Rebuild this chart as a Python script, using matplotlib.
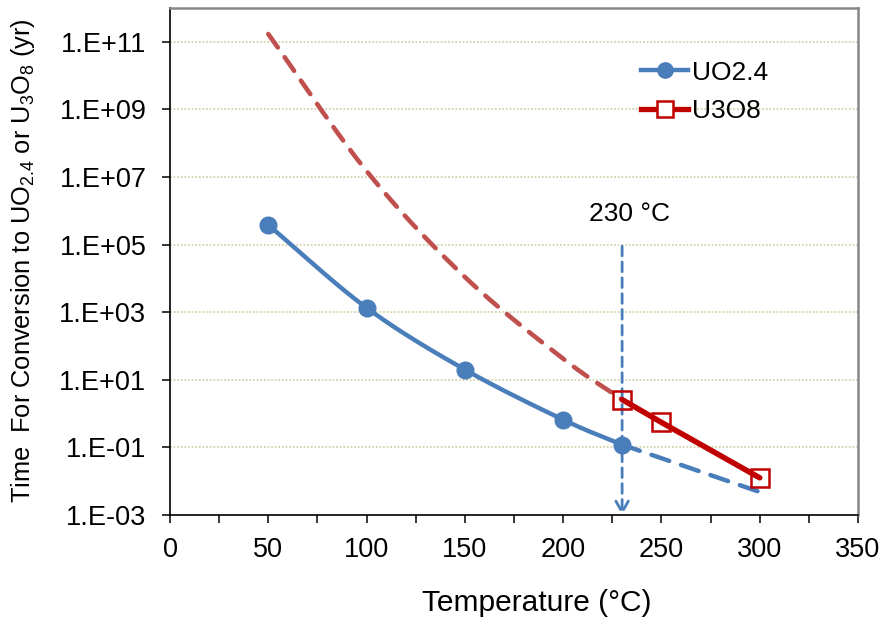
import numpy as np
import matplotlib
matplotlib.use("Agg")
import matplotlib.pyplot as plt
from matplotlib.ticker import FixedLocator, MultipleLocator, NullFormatter, NullLocator

plt.rcParams['font.family'] = ['Liberation Sans', 'DejaVu Sans']
plt.rcParams['mathtext.default'] = 'regular'

# ---------------- data ----------------
uo24_temp = [50, 100, 150, 200, 230]
uo24_time = [3.8e5, 1.35e3, 20.0, 0.66, 0.12]

uo24_ext_temp = [230, 300]
uo24_ext_time = [0.12, 0.0048]

u3o8_ext_temp = [50, 100, 150, 200, 230]
u3o8_ext_time = [1.7e11, 1.5e7, 1.1e4, 42.0, 2.6]

u3o8_temp = [230, 250, 300]
u3o8_time = [2.6, 0.55, 0.0126]

marker_line_temp = 230
marker_line_top = 9e4

ytick_vals = [1e-3, 1e-1, 1e1, 1e3, 1e5, 1e7, 1e9, 1e11]
ytick_labels = ['1.E-03', '1.E-01', '1.E+01', '1.E+03', '1.E+05', '1.E+07', '1.E+09', '1.E+11']
xtick_vals = [0, 50, 100, 150, 200, 250, 300, 350]

BLUE = '#4a7ebb'
RED = '#c00000'
RED_DASH = '#c0504d'


def smooth(xs, ys, n=40):
    """Excel-style smoothed line (Catmull-Rom) in (x, log10 y) space."""
    x = np.asarray(xs, float)
    y = np.log10(np.asarray(ys, float))
    px = np.concatenate([[2 * x[0] - x[1]], x, [2 * x[-1] - x[-2]]])
    py = np.concatenate([[2 * y[0] - y[1]], y, [2 * y[-1] - y[-2]]])
    ox, oy = [], []
    t = np.linspace(0, 1, n)
    for i in range(1, len(px) - 2):
        p0, p1, p2, p3 = px[i - 1], px[i], px[i + 1], px[i + 2]
        q0, q1, q2, q3 = py[i - 1], py[i], py[i + 1], py[i + 2]
        bx = [p1, p1 + (p2 - p0) / 6, p2 - (p3 - p1) / 6, p2]
        by = [q1, q1 + (q2 - q0) / 6, q2 - (q3 - q1) / 6, q2]
        cx = ((1 - t) ** 3) * bx[0] + 3 * ((1 - t) ** 2) * t * bx[1] + 3 * (1 - t) * t ** 2 * bx[2] + t ** 3 * bx[3]
        cy = ((1 - t) ** 3) * by[0] + 3 * ((1 - t) ** 2) * t * by[1] + 3 * (1 - t) * t ** 2 * by[2] + t ** 3 * by[3]
        ox.extend(cx if i == 1 else cx[1:])
        oy.extend(cy if i == 1 else cy[1:])
    return np.array(ox), 10 ** np.array(oy)


fig = plt.figure(figsize=(8.83, 6.19), dpi=100)
ax = fig.add_axes([170 / 883, 1 - 515 / 619, 688 / 883, 507 / 619])
ax.set_yscale('log')
ax.set_xlim(0, 350)
ax.set_ylim(1e-3, 1e12)

# grid
for v in ytick_vals[1:]:
    ax.axhline(v, color='#d6d2ae', lw=1.3, ls=(0, (1, 1)), zorder=0)

# red dashed extrapolation
sx, sy = smooth(u3o8_ext_temp, u3o8_ext_time)
ax.plot(sx, sy, color=RED_DASH, lw=3.3, ls=(0, (3.6, 2.6)), dash_capstyle='round', zorder=3)

# blue solid smoothed
bx, by = smooth(uo24_temp, uo24_time)
ax.plot(bx, by, color=BLUE, lw=3.2, solid_capstyle='round', zorder=3)
ax.plot(uo24_temp, uo24_time, ls='none', marker='o', ms=12, color=BLUE, zorder=4)

# blue dashed extension
ax.plot(uo24_ext_temp, uo24_ext_time, color=BLUE, lw=3.2, ls=(0, (4.2, 2.8)), dash_capstyle='round', zorder=3)

# red solid
ax.plot(u3o8_temp, u3o8_time, color=RED, lw=4.0, solid_capstyle='round', zorder=5)
ax.plot(u3o8_temp, u3o8_time, ls='none', marker='s', ms=12.5, mfc='none', mec=RED, mew=1.8, zorder=6)

# vertical dashed arrow at 230 C
ax.annotate('', xy=(marker_line_temp, 1e-3), xytext=(marker_line_temp, marker_line_top),
            arrowprops=dict(arrowstyle='->,head_length=0.8,head_width=0.45', color=BLUE, lw=2.0,
                            ls=(0, (3.5, 2.2)), shrinkA=0, shrinkB=0), zorder=4)
ax.text(marker_line_temp + 4, 10 ** 5.9, '230 °C', fontsize=19, ha='center', va='center')

# legend
h1, = ax.plot([], [], color=BLUE, lw=3.2, marker='o', ms=11)
h2, = ax.plot([], [], color=RED, lw=3.8, marker='s', ms=11, mfc='white', mec=RED, mew=1.8)
ax.legend([h1, h2], ['UO2.4', 'U3O8'], loc='upper left', bbox_to_anchor=(0.6845, 0.896),
          frameon=False, fontsize=19, handlelength=1.8, handletextpad=0.15,
          labelspacing=0.55, borderpad=0, borderaxespad=0)

# ticks
ax.yaxis.set_major_locator(FixedLocator(ytick_vals))
ax.set_yticklabels(ytick_labels)
ax.yaxis.set_minor_locator(NullLocator())
ax.yaxis.set_minor_formatter(NullFormatter())
ax.set_xticks(xtick_vals)
ax.xaxis.set_minor_locator(MultipleLocator(25))
ax.tick_params(axis='both', which='both', direction='out', length=6, width=1.1, color='black',
               labelsize=19.5, pad=10)
ax.tick_params(axis='y', pad=11)
ax.tick_params(top=False, right=False, which='both')

for s in ['left', 'bottom']:
    ax.spines[s].set_color('black')
    ax.spines[s].set_linewidth(1.2)
for s in ['top', 'right']:
    ax.spines[s].set_color('#868686')
    ax.spines[s].set_linewidth(1.8)

ax.set_xlabel('Temperature (°C)', fontsize=21.5)
ax.xaxis.set_label_coords((537 - 170) / 688, -(603 - 515) / 507)
ax.xaxis.label.set_va('center')
ax.set_ylabel('Time  For Conversion to UO$_{2.4}$ or U$_{3}$O$_{8}$ (yr)', fontsize=18.3)
ax.yaxis.set_label_coords(-(170 - 37) / 688, (515 - 261) / 507)

fig.savefig('out.png', dpi=100)
